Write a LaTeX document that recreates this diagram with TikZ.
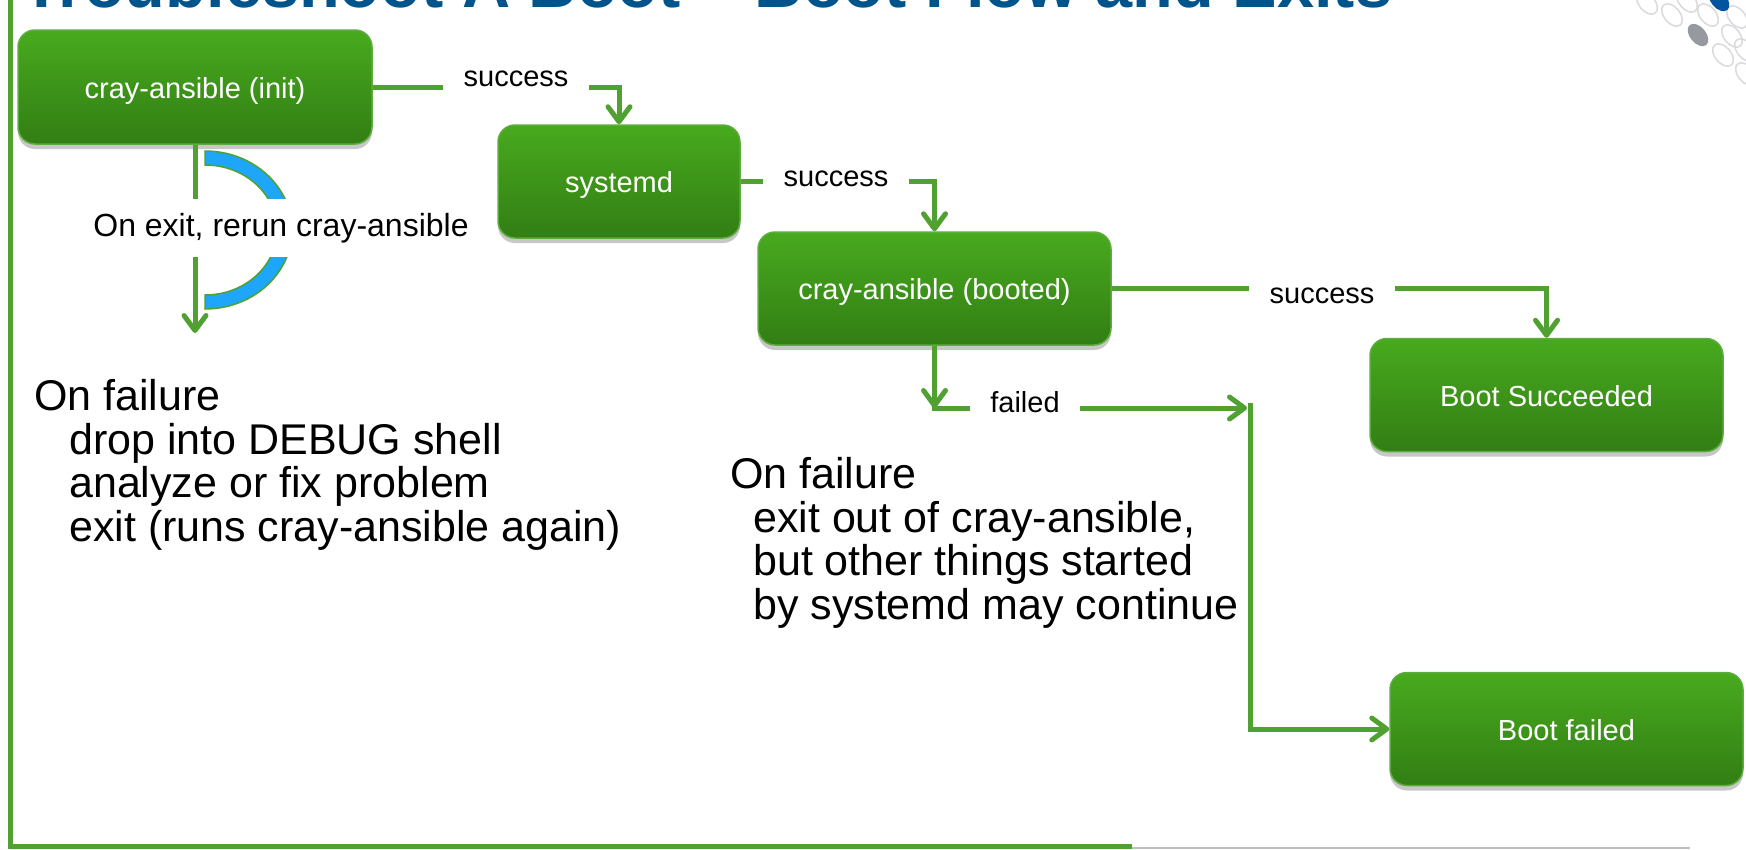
\documentclass[tikz,border=0pt]{standalone}
\usepackage{fontspec}
\setmainfont{Liberation Sans}
\usetikzlibrary{arrows.meta,shadows}

\definecolor{boxtop}{RGB}{72,170,30}
\definecolor{boxbot}{RGB}{50,126,20}
\definecolor{boxedge}{RGB}{92,172,62}
\definecolor{linkgreen}{RGB}{80,160,50}
\definecolor{arcblue}{RGB}{30,166,250}
\definecolor{titleblue}{RGB}{0,84,140}
\definecolor{dotgray}{RGB}{150,153,160}
\definecolor{dotline}{RGB}{218,218,222}
\definecolor{dotblue}{RGB}{0,84,160}

\tikzset{
  stage/.style={rounded corners=17pt, draw=boxedge, line width=1.5pt,
    top color=boxtop, bottom color=boxbot, text=white,
    font=\fontsize{29}{34}\selectfont, text height=26pt, text depth=4pt,
    minimum width=353pt, minimum height=113pt, inner sep=0pt,
    drop shadow={shadow xshift=0pt, shadow yshift=-5pt, opacity=0.22, fill=black}},
  link/.style={draw=linkgreen, line width=5pt},
  tip/.style={-{Straight Barb[length=15pt,width=22pt,line width=5pt,round]}},
  edgelabel/.style={fill=white, inner xsep=0pt, inner ysep=5pt,
    font=\fontsize{29}{34}\selectfont, text height=22pt, text depth=7pt},
  note/.style={align=left, anchor=north west, inner sep=0pt,
    font=\fontsize{43}{43.7}\selectfont},
  frame/.style={draw=linkgreen, line width=5pt},
  ring/.style={draw=dotline, line width=1.5pt},
}

\begin{document}
\begin{tikzpicture}[x=1pt,y=-1pt]
\useasboundingbox (0,0) rectangle (1746,849);
\clip (0,0) rectangle (1746,849);

% slide title, cut by the top edge
\node[anchor=base west, inner sep=0pt, text=titleblue,
      font=\bfseries\fontsize{66.7}{70}\selectfont] (title) at (21,7)
      {Troubleshoot A Boot – Boot Flow and Exits};

% corner pattern of tilted ovals
\foreach \cx/\cy in {1647/3, 1672/15, 1687/1, 1708/15, 1737/17, 1732/36, 1723/55, 1745/50, 1746/74}
  \draw[ring, rotate around={-50:(\cx,\cy)}] (\cx,\cy) ellipse [x radius=13pt, y radius=8pt];
\fill[dotgray, rotate around={-50:(1698,35)}] (1698,35) ellipse [x radius=13pt, y radius=8pt];
\fill[dotblue, rotate around={-50:(1719,0)}] (1719,0) ellipse [x radius=13pt, y radius=8pt];

% slide frame
\draw[frame] (10,0) -- (10,846.5) -- (1132,846.5);
\draw[black!25, line width=1.5pt] (1132,848) -- (1690,848);

% stages
\node[stage, minimum width=354pt, minimum height=114pt] (init) at (195,87) {cray-ansible (init)};
\node[stage, minimum width=242pt] (sysd) at (619,181.5) {systemd};
\node[stage] (booted) at (934.5,288.5) {cray-ansible (booted)};
\node[stage] (bootok) at (1546.5,395) {Boot Succeeded};
\node[stage] (bootfail) at (1566.5,729) {Boot failed};

% rerun loop marker
\fill[arcblue, draw=linkgreen, line width=1.5pt]
  (205,151) arc[start angle=90, end angle=-90, x radius=87pt, y radius=79pt]
  -- (205,295) arc[start angle=-90, end angle=90, x radius=72pt, y radius=65pt] -- cycle;

% success path
\draw[link, tip] (init.east) -- (init.east -| sysd.north) -- (sysd.north);
\draw[link, tip] (sysd.east) -- (sysd.east -| booted.north) -- (booted.north);
\draw[link, tip] (booted.east) -- (booted.east -| bootok.north) -- (bootok.north);

% failure paths
\coordinate (initdrop) at (195,333);
\draw[link, tip] (init.south) -- (initdrop);

\coordinate (fcorner) at (booted.south |- 0,408);
\coordinate (fjoin) at (1247,408);
\coordinate (ftop) at (1250,403);
\draw[link, tip] (booted.south) -- (fcorner);
\draw[link, tip] ([xshift=-2.5pt]fcorner) -- (fjoin);
\draw[link, tip] (ftop) -- (ftop |- bootfail.west) -- (bootfail.west);

% connector labels
\node[edgelabel, minimum width=146pt] (lbl1) at (516,79) {success};
\node[edgelabel, minimum width=146pt] (lbl2) at (836,179) {success};
\node[edgelabel, minimum width=146pt] (lbl3) at (1322,296) {success};
\node[edgelabel, minimum width=110pt] (lbl4) at (1025,405) {failed};
\node[fill=white, inner xsep=10pt, minimum height=58pt,
      font=\fontsize{32}{36}\selectfont, text height=24pt, text depth=8pt]
      (rerun) at (281,228) {On exit, rerun cray-ansible};

% notes
\node[note] (initnote) at (34,379)
  {On failure\\
   \hspace*{35pt}drop into DEBUG shell\\
   \hspace*{35pt}analyze or fix problem\\
   \hspace*{35pt}exit (runs cray-ansible again)};
\node[note] (bootnote) at (730,457)
  {On failure\\
   \hspace*{23pt}exit out of cray-ansible,\\
   \hspace*{23pt}but other things started\\
   \hspace*{23pt}by systemd may continue};
\end{tikzpicture}
\end{document}
